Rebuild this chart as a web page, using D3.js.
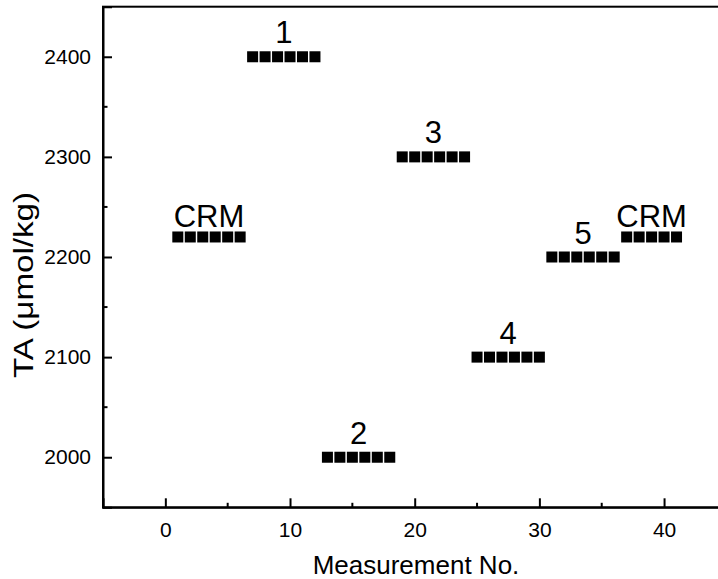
<!DOCTYPE html>
<html>
<head>
<meta charset="utf-8">
<script src="https://cdn.jsdelivr.net/npm/d3@7"></script>
<style>
  body { margin: 0; background: #fff; }
  svg { display: block; font-family: Arial, "Liberation Sans", sans-serif; }
</style>
</head>
<body>
<script>
// measurement data
const measurementNo = [1, 2, 3, 4, 5, 6, 7, 8, 9, 10, 11, 12, 13, 14, 15, 16, 17, 18, 19, 20,
                       21, 22, 23, 24, 25, 26, 27, 28, 29, 30, 31, 32, 33, 34, 35, 36, 37, 38, 39, 40, 41];
const taValues = [2220, 2220, 2220, 2220, 2220, 2220,
                  2400, 2400, 2400, 2400, 2400, 2400,
                  2000, 2000, 2000, 2000, 2000, 2000,
                  2300, 2300, 2300, 2300, 2300, 2300,
                  2100, 2100, 2100, 2100, 2100, 2100,
                  2200, 2200, 2200, 2200, 2200, 2200,
                  2220, 2220, 2220, 2220, 2220];
const pointGroup = [0, 0, 0, 0, 0, 0, 1, 1, 1, 1, 1, 1, 2, 2, 2, 2, 2, 2,
                    3, 3, 3, 3, 3, 3, 4, 4, 4, 4, 4, 4, 5, 5, 5, 5, 5, 5, 6, 6, 6, 6, 6];
const groupNames = ['CRM', '1', '2', '3', '4', '5', 'CRM'];

const xTicks = [0, 10, 20, 30, 40];
const xMinor = [5, 15, 25, 35];
const yTicks = [2000, 2100, 2200, 2300, 2400];
const yMinor = [2050, 2150, 2250, 2350];

const width = 718;
const height = 579;
const margin = {left: 103, top: 6.7, right: 726.4, bottom: 507.3};

const data = measurementNo.map((n, i) => ({n: n, ta: taValues[i], g: pointGroup[i]}));

const svg = d3.select('body')
    .append('svg')
        .attr('width', width)
        .attr('height', height);

//scales
const xScale = d3.scaleLinear()
    .domain([-5, 45])
    .range([margin.left, margin.right]);
const yScale = d3.scaleLinear()
    .domain([1950, 2450])
    .range([margin.bottom, margin.top]);

//frame (right edge falls just outside the picture, like the original)
svg.append('rect')
    .attr('x', margin.left)
    .attr('y', margin.top)
    .attr('width', margin.right - margin.left)
    .attr('height', margin.bottom - margin.top)
    .attr('fill', 'none')
    .attr('stroke', '#000')
    .attr('stroke-width', 2);

//axes, ticks pointing inward
const xAxis = d3.axisBottom(xScale).tickValues(xTicks).tickSize(-9).tickPadding(15).tickFormat(d3.format('d'));
const yAxis = d3.axisLeft(yScale).tickValues(yTicks).tickSize(-9).tickPadding(12).tickFormat(d3.format('d'));

const gx = svg.append('g')
    .attr('transform', `translate(0, ${margin.bottom})`)
    .call(xAxis);
const gy = svg.append('g')
    .attr('transform', `translate(${margin.left}, 0)`)
    .call(yAxis);

//minor ticks
gx.selectAll('.minor')
    .data(xMinor)
    .enter()
    .append('line')
        .attr('x1', d => xScale(d))
        .attr('x2', d => xScale(d))
        .attr('y1', 0)
        .attr('y2', -4.5);
gy.selectAll('.minor')
    .data(yMinor)
    .enter()
    .append('line')
        .attr('y1', d => yScale(d))
        .attr('y2', d => yScale(d))
        .attr('x1', 0)
        .attr('x2', 4.5);

[gx, gy].forEach(g => {
    g.select('.domain').attr('stroke-width', 2);
    g.selectAll('line').attr('stroke', '#000').attr('stroke-width', 2);
    g.selectAll('text')
        .attr('fill', '#000')
        .style('font-size', '21px')
        .style('font-family', 'Arial, "Liberation Sans", sans-serif');
});

//axis titles
svg.append('text')
    .attr('x', 416)
    .attr('y', 574)
    .attr('text-anchor', 'middle')
    .style('font-size', '26px')
    .text('Measurement No.');

svg.append('text')
    .attr('transform', 'rotate(-90)')
    .attr('x', -285)
    .attr('y', 33)
    .attr('text-anchor', 'middle')
    .attr('textLength', 186)
    .attr('lengthAdjust', 'spacingAndGlyphs')
    .style('font-size', '27px')
    .text('TA (μmol/kg)');

//points
const sq = 11;
svg.selectAll('rect.pt')
    .data(data)
    .enter()
    .append('rect')
        .attr('class', 'pt')
        .attr('x', d => xScale(d.n) - sq / 2)
        .attr('y', d => yScale(d.ta) - sq / 2)
        .attr('width', sq)
        .attr('height', sq)
        .attr('fill', '#000');

//group labels above each run
const groups = d3.groups(data, d => d.g);
svg.selectAll('text.lbl')
    .data(groups)
    .enter()
    .append('text')
        .attr('class', 'lbl')
        .attr('x', d => xScale(d3.mean(d[1], p => p.n)))
        .attr('y', d => yScale(d[1][0].ta) - sq / 2 - (groupNames[d[0]] === 'CRM' ? 4 : 8))
        .attr('text-anchor', 'middle')
        .style('font-size', '31px')
        .text(d => groupNames[d[0]]);
</script>
</body>
</html>
